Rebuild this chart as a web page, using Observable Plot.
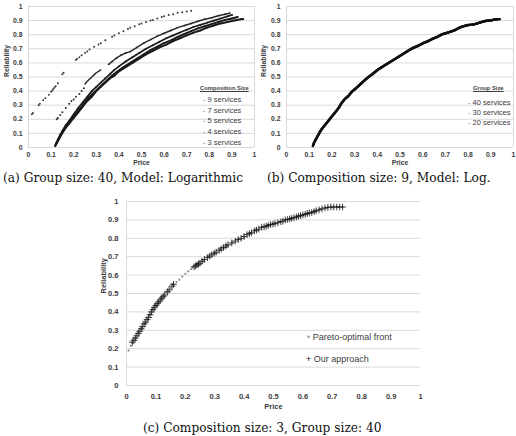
<!DOCTYPE html>
<html><head><meta charset="utf-8">
<script src="https://cdn.jsdelivr.net/npm/d3@7"></script>
<script src="https://cdn.jsdelivr.net/npm/@observablehq/plot@0.6"></script>
<style>
html,body{margin:0;padding:0;background:#fff;}
#root{position:relative;width:516px;height:436px;overflow:hidden;background:#fff;}
.panel{position:absolute;}
.panel svg text{font-weight:bold;}
.cap{position:absolute;font-family:"DejaVu Serif","Liberation Serif",serif;font-size:12.2px;line-height:18px;color:#111;white-space:nowrap;}
.leg{position:absolute;font-family:"Liberation Sans",sans-serif;color:#404040;white-space:nowrap;}
.legt{font-weight:bold;text-decoration:underline;font-size:5.8px;}
.legi{font-size:7.5px;}
.legc{font-size:9px;}
</style>
</head><body><div id="root"></div>
<script>
// ---------- shared ticks ----------
const ticks = [0, 0.1, 0.2, 0.3, 0.4, 0.5, 0.6, 0.7, 0.8, 0.9, 1];
const tickLabels = ["0", "0.1", "0.2", "0.3", "0.4", "0.5", "0.6", "0.7", "0.8", "0.9", "1"];
const fmt = d => tickLabels[Math.round(d * 10)];

// ---------- panel (a): Group size 40, composition sizes ----------
const aLegendTitle = "Composition Size";
const aSeriesNames = ["9 services", "7 services", "5 services", "4 services", "3 services"];
const a9 = [[0.118,0.01],[0.125,0.03],[0.135,0.06],[0.145,0.09],[0.16,0.13],[0.18,0.17],[0.2,0.21],[0.22,0.25],[0.24,0.29],[0.26,0.33],[0.28,0.36],[0.30,0.40],[0.32,0.43],[0.34,0.46],[0.36,0.49],[0.38,0.51],[0.40,0.54],[0.43,0.57],[0.46,0.60],[0.49,0.63],[0.52,0.66],[0.55,0.685],[0.58,0.71],[0.61,0.73],[0.64,0.755],[0.67,0.775],[0.70,0.795],[0.73,0.815],[0.76,0.83],[0.79,0.85],[0.82,0.865],[0.85,0.88],[0.88,0.89],[0.91,0.90],[0.94,0.91],[0.95,0.912]];
const a7 = [[0.12,0.02],[0.13,0.05],[0.14,0.08],[0.155,0.12],[0.17,0.16],[0.19,0.20],[0.21,0.24],[0.23,0.28],[0.25,0.32],[0.27,0.36],[0.29,0.39],[0.31,0.42],[0.33,0.45],[0.35,0.48],[0.37,0.51],[0.39,0.535],[0.42,0.57],[0.45,0.60],[0.48,0.63],[0.51,0.66],[0.54,0.69],[0.57,0.715],[0.60,0.74],[0.63,0.76],[0.66,0.785],[0.69,0.805],[0.72,0.825],[0.75,0.845],[0.78,0.86],[0.81,0.875],[0.84,0.89],[0.87,0.905],[0.90,0.915],[0.925,0.925]];
const a5 = [[0.122,0.03],[0.13,0.06],[0.14,0.09],[0.15,0.12],[0.165,0.16],[0.18,0.19],[0.20,0.235],[0.22,0.28],[0.24,0.32],[0.26,0.36],[0.28,0.40],[0.30,0.43],[0.32,0.46],[0.34,0.49],[0.36,0.52],[0.38,0.55],[0.40,0.575],[0.43,0.61],[0.46,0.64],[0.49,0.67],[0.52,0.70],[0.55,0.725],[0.58,0.75],[0.61,0.775],[0.64,0.795],[0.67,0.815],[0.70,0.835],[0.73,0.855],[0.76,0.87],[0.79,0.885],[0.82,0.90],[0.85,0.915],[0.88,0.93],[0.90,0.94]];
const a4Sparse = [[0.125,0.20],[0.13,0.21],[0.14,0.23],[0.15,0.25],[0.165,0.28],[0.18,0.31],[0.19,0.33],[0.2,0.34],[0.21,0.36],[0.225,0.38],[0.235,0.40],[0.245,0.42]];
const a4SegA = [[0.25,0.45],[0.26,0.47],[0.27,0.485],[0.28,0.50],[0.29,0.515],[0.30,0.53],[0.31,0.54],[0.32,0.55]];
const a4SegB = [[0.355,0.59],[0.37,0.61],[0.39,0.635],[0.41,0.655],[0.43,0.67],[0.45,0.68],[0.48,0.71],[0.51,0.74],[0.54,0.765],[0.57,0.79],[0.60,0.81],[0.63,0.83],[0.66,0.85],[0.69,0.865],[0.72,0.88],[0.75,0.895],[0.78,0.91],[0.81,0.92],[0.84,0.935],[0.87,0.945],[0.89,0.952]];
const a3 = [[0.015,0.235],[0.02,0.245],[0.045,0.30],[0.05,0.31],[0.065,0.335],[0.075,0.35],[0.09,0.375],[0.1,0.395],[0.105,0.405],[0.11,0.415],[0.115,0.425],[0.12,0.435],[0.13,0.455],[0.15,0.52],[0.155,0.53],[0.21,0.62],[0.215,0.63],[0.225,0.64],[0.235,0.655],[0.25,0.67],[0.26,0.68],[0.27,0.695],[0.29,0.715],[0.31,0.73],[0.32,0.74],[0.34,0.76],[0.37,0.785],[0.38,0.795],[0.40,0.81],[0.42,0.825],[0.44,0.84],[0.45,0.85],[0.47,0.86],[0.49,0.875],[0.50,0.88],[0.52,0.89],[0.54,0.90],[0.55,0.905],[0.57,0.915],[0.59,0.925],[0.60,0.93],[0.62,0.94],[0.64,0.945],[0.66,0.955],[0.68,0.96],[0.70,0.965],[0.72,0.97]];

// ---------- panel (b): Composition size 9, group sizes ----------
const bLegendTitle = "Group Size";
const bSeriesNames = ["40 services", "30 services", "20 services"];
const b40 = [[0.116,0.01],[0.12,0.03],[0.13,0.06],[0.14,0.09],[0.15,0.12],[0.16,0.14],[0.17,0.16],[0.18,0.18],[0.19,0.20],[0.20,0.22],[0.21,0.24],[0.22,0.26],[0.23,0.28],[0.24,0.31],[0.25,0.33],[0.26,0.35],[0.27,0.36],[0.28,0.38],[0.29,0.40],[0.30,0.41],[0.32,0.44],[0.34,0.47],[0.36,0.50],[0.38,0.52],[0.40,0.55],[0.42,0.57],[0.44,0.59],[0.46,0.61],[0.48,0.63],[0.50,0.65],[0.52,0.67],[0.54,0.69],[0.56,0.71],[0.58,0.72],[0.60,0.74],[0.62,0.75],[0.64,0.77],[0.66,0.78],[0.68,0.80],[0.70,0.81],[0.72,0.82],[0.74,0.83],[0.76,0.85],[0.78,0.86],[0.80,0.87],[0.82,0.87],[0.84,0.88],[0.86,0.89],[0.88,0.90],[0.90,0.90],[0.92,0.91],[0.94,0.91]];
const b30 = [[0.117,0.015],[0.125,0.045],[0.135,0.075],[0.145,0.105],[0.155,0.13],[0.165,0.15],[0.175,0.17],[0.185,0.19],[0.195,0.21],[0.205,0.23],[0.215,0.25],[0.225,0.27],[0.235,0.295],[0.245,0.32],[0.255,0.34],[0.265,0.355],[0.275,0.37],[0.285,0.39],[0.295,0.405],[0.31,0.425],[0.33,0.455],[0.35,0.485],[0.37,0.51],[0.39,0.535],[0.41,0.56],[0.43,0.58],[0.45,0.60],[0.47,0.62],[0.49,0.64],[0.51,0.66],[0.53,0.68],[0.55,0.70],[0.57,0.715],[0.59,0.73],[0.61,0.745],[0.63,0.76],[0.65,0.775],[0.67,0.79],[0.69,0.805],[0.71,0.815],[0.73,0.825],[0.75,0.84],[0.77,0.855],[0.79,0.865],[0.81,0.87],[0.83,0.875],[0.85,0.885],[0.87,0.895],[0.89,0.90],[0.91,0.905],[0.93,0.91]];
const b20 = [[0.118,0.02],[0.122,0.035],[0.132,0.065],[0.142,0.095],[0.152,0.122],[0.162,0.145],[0.172,0.165],[0.182,0.185],[0.192,0.205],[0.202,0.225],[0.212,0.245],[0.222,0.265],[0.232,0.285],[0.242,0.315],[0.252,0.335],[0.262,0.352],[0.272,0.365],[0.282,0.385],[0.292,0.402],[0.305,0.42],[0.325,0.45],[0.345,0.478],[0.365,0.505],[0.385,0.53],[0.405,0.555],[0.425,0.575],[0.445,0.595],[0.465,0.615],[0.485,0.635],[0.505,0.655],[0.525,0.675],[0.545,0.695],[0.565,0.71],[0.585,0.725],[0.605,0.742],[0.625,0.755],[0.645,0.772],[0.665,0.785],[0.685,0.802],[0.705,0.812],[0.725,0.822],[0.745,0.835],[0.765,0.852],[0.785,0.862],[0.805,0.87],[0.825,0.873],[0.845,0.882],[0.865,0.892],[0.885,0.90],[0.905,0.903],[0.925,0.91]];

// ---------- panel (c): Composition size 3, Group size 40 ----------
const cSeriesNames = ["Pareto-optimal front", "Our approach"];
const cPareto = [[0.007,0.19],[0.015,0.215],[0.02,0.23],[0.03,0.255],[0.04,0.285],[0.05,0.31],[0.06,0.335],[0.07,0.36],[0.08,0.385],[0.09,0.415],[0.10,0.435],[0.11,0.455],[0.12,0.475],[0.135,0.505],[0.15,0.53],[0.16,0.548],[0.17,0.562],[0.18,0.575],[0.19,0.592],[0.20,0.607],[0.21,0.62],[0.22,0.633],[0.225,0.64],[0.24,0.66],[0.26,0.68],[0.28,0.70],[0.30,0.72],[0.32,0.74],[0.34,0.76],[0.36,0.775],[0.38,0.795],[0.40,0.81],[0.42,0.83],[0.44,0.845],[0.46,0.86],[0.48,0.87],[0.50,0.88],[0.52,0.89],[0.54,0.90],[0.56,0.91],[0.58,0.918],[0.60,0.927],[0.62,0.937],[0.64,0.947],[0.66,0.957],[0.68,0.964],[0.70,0.968],[0.72,0.97],[0.735,0.971]];
const cOurs = [[0.02,0.235],[0.025,0.245],[0.03,0.258],[0.035,0.27],[0.04,0.283],[0.045,0.295],[0.05,0.308],[0.055,0.32],[0.06,0.335],[0.065,0.345],[0.07,0.358],[0.075,0.37],[0.08,0.385],[0.085,0.40],[0.09,0.412],[0.095,0.425],[0.1,0.435],[0.105,0.445],[0.11,0.455],[0.115,0.465],[0.12,0.475],[0.125,0.485],[0.13,0.492],[0.14,0.51],[0.145,0.52],[0.155,0.54],[0.16,0.55],[0.23,0.645],[0.235,0.65],[0.24,0.655],[0.245,0.66],[0.25,0.665],[0.257,0.675],[0.265,0.685],[0.275,0.695],[0.283,0.703],[0.29,0.71],[0.298,0.718],[0.305,0.725],[0.315,0.735],[0.322,0.742],[0.33,0.75],[0.338,0.758],[0.345,0.765],[0.358,0.775],[0.37,0.785],[0.38,0.793],[0.39,0.80],[0.40,0.81],[0.41,0.82],[0.418,0.825],[0.425,0.83],[0.435,0.84],[0.442,0.845],[0.45,0.85],[0.46,0.86],[0.468,0.862],[0.475,0.865],[0.482,0.87],[0.49,0.875],[0.498,0.877],[0.505,0.88],[0.515,0.885],[0.525,0.89],[0.532,0.893],[0.54,0.9],[0.548,0.902],[0.555,0.905],[0.562,0.908],[0.57,0.912],[0.578,0.916],[0.585,0.92],[0.592,0.923],[0.60,0.927],[0.608,0.93],[0.615,0.935],[0.622,0.937],[0.63,0.94],[0.638,0.945],[0.645,0.95],[0.655,0.955],[0.665,0.96],[0.675,0.965],[0.685,0.968],[0.695,0.97],[0.705,0.97],[0.715,0.97],[0.725,0.97],[0.735,0.97]];

const captions = [
  "(a) Group size: 40, Model: Logarithmic",
  "(b) Composition size: 9, Model: Log.",
  "(c) Composition size: 3, Group size: 40"
];

const X = d => d[0], Y = d => d[1];
const root = document.getElementById("root");

function frameMarks(o) {
  return [
    Plot.gridY(ticks, {stroke: "#d9d9d9", strokeOpacity: 1, strokeWidth: 1}),
    Plot.ruleX(o.rules, {stroke: "#d9d9d9", strokeWidth: 1}),
    Plot.axisX({ticks, tickFormat: fmt, tickSize: 0, tickPadding: o.xPad, label: null, fill: "#3a3a3a"}),
    Plot.axisY({ticks, tickFormat: fmt, tickSize: 0, tickPadding: o.yPad, label: null, fill: "#3a3a3a"}),
    Plot.text(["Price"], {text: d => d, frameAnchor: "bottom", dy: o.priceDy, fill: "#3a3a3a"}),
    Plot.text(["Reliability"], {text: d => d, frameAnchor: "left", dx: o.relDx, rotate: -90, fill: "#3a3a3a"})
  ];
}

function place(svg, left, top) {
  const d = document.createElement("div");
  d.className = "panel";
  d.style.left = left + "px"; d.style.top = top + "px";
  d.appendChild(svg);
  root.appendChild(d);
}

// Panel a
const pa = Plot.plot({
  width: 258, height: 170, marginLeft: 28, marginRight: 4, marginTop: 6, marginBottom: 23,
  x: {domain: [0, 1]}, y: {domain: [0, 1]},
  style: {fontFamily: "Liberation Sans, sans-serif", fontSize: "6.8px", background: "transparent", overflow: "visible"},
  marks: [
    ...frameMarks({rules: [0, 1], xPad: 5, yPad: 6, priceDy: 17, relDx: -22}),
    Plot.line(a9, {x: X, y: Y, stroke: "#1a1a1a", strokeWidth: 2}),
    Plot.line(a7, {x: X, y: Y, stroke: "#1a1a1a", strokeWidth: 2}),
    Plot.line(a5, {x: X, y: Y, stroke: "#1a1a1a", strokeWidth: 1.7}),
    Plot.dot(a9, {x: X, y: Y, r: 0.9, fill: "#1a1a1a"}),
    Plot.dot(a7, {x: X, y: Y, r: 0.9, fill: "#1a1a1a"}),
    Plot.dot(a5, {x: X, y: Y, r: 0.9, fill: "#1a1a1a"}),
    Plot.dot(a4Sparse, {x: X, y: Y, r: 1, fill: "#2a2a2a"}),
    Plot.line(a4SegA, {x: X, y: Y, stroke: "#2a2a2a", strokeWidth: 1.4}),
    Plot.line(a4SegB, {x: X, y: Y, stroke: "#2a2a2a", strokeWidth: 1.5}),
    Plot.dot(a4SegB, {x: X, y: Y, r: 0.9, fill: "#2a2a2a"}),
    Plot.dot(a3, {x: X, y: Y, r: 1, fill: "#3a3a3a"})
  ]
});
place(pa, 0, 0);

// Panel b
const pb = Plot.plot({
  width: 260, height: 170, marginLeft: 30, marginRight: 3, marginTop: 6, marginBottom: 23,
  x: {domain: [0, 1]}, y: {domain: [0, 1]},
  style: {fontFamily: "Liberation Sans, sans-serif", fontSize: "6.8px", background: "transparent", overflow: "visible"},
  marks: [
    ...frameMarks({rules: [0, 1], xPad: 5, yPad: 6, priceDy: 17, relDx: -23}),
    Plot.line(b20, {x: X, y: Y, stroke: "#111", strokeWidth: 2.4}),
    Plot.line(b30, {x: X, y: Y, stroke: "#111", strokeWidth: 2.4}),
    Plot.line(b40, {x: X, y: Y, stroke: "#111", strokeWidth: 2.4})
  ]
});
place(pb, 256, 0);

// Panel c
const pc = Plot.plot({
  width: 330, height: 225, marginLeft: 26, marginRight: 10, marginTop: 11, marginBottom: 30,
  x: {domain: [0, 1]}, y: {domain: [0, 1]},
  style: {fontFamily: "Liberation Sans, sans-serif", fontSize: "7.5px", background: "transparent", overflow: "visible"},
  marks: [
    ...frameMarks({rules: [0], xPad: 8, yPad: 8, priceDy: 23, relDx: -23}),
    Plot.dot(cPareto, {x: X, y: Y, r: 1.1, fill: "#8c8c8c"}),
    Plot.dot(cOurs, {x: X, y: Y, r: 2.3, symbol: "plus", stroke: "#111", strokeWidth: 0.8})
  ]
});
place(pc, 100, 190);

// Legends
function legend(left, top, html, cls) {
  const d = document.createElement("div");
  d.className = "leg " + cls;
  d.style.left = left + "px"; d.style.top = top + "px";
  d.innerHTML = html;
  root.appendChild(d);
}
legend(200, 85, aLegendTitle, "legt");
const aY = [100, 110.7, 121.3, 132.3, 143.3];
aSeriesNames.forEach((n, i) => legend(203, aY[i] - 5, "<span style='color:#777'>-</span> " + n, "legi"));
legend(473, 85, bLegendTitle, "legt");
const bY = [102.7, 112.7, 122.7];
bSeriesNames.forEach((n, i) => legend(468, bY[i] - 5, "<span style='color:#777'>-</span> " + n, "legi"));
legend(307, 332, "<span style='color:#999'>•</span> " + cSeriesNames[0], "legc");
legend(306, 354, "<span style='color:#111'>+</span> " + cSeriesNames[1], "legc");

// Captions
const capPos = [[3, 169], [267, 169], [143, 419]];
captions.forEach((t, i) => {
  const d = document.createElement("div");
  d.className = "cap";
  d.style.left = capPos[i][0] + "px"; d.style.top = capPos[i][1] + "px";
  d.textContent = t;
  root.appendChild(d);
});
</script>
</body></html>
